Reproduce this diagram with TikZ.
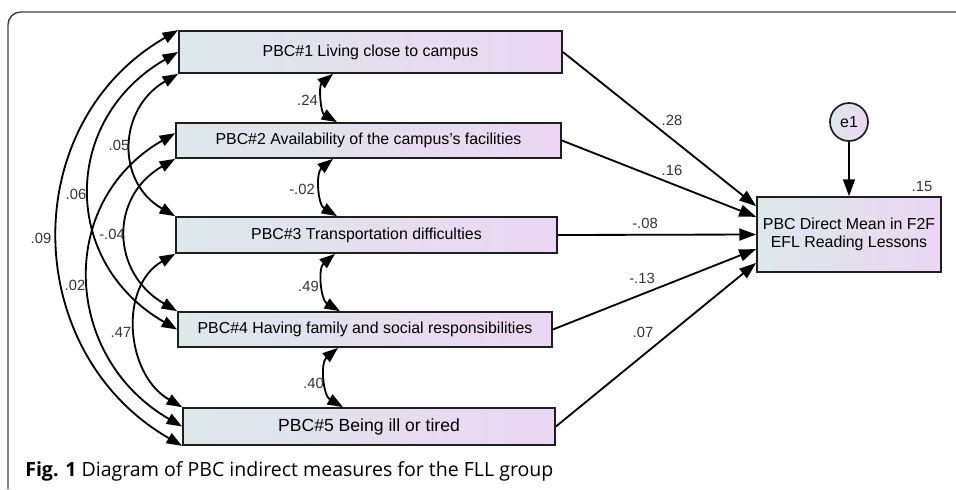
\documentclass[tikz,border=0pt]{standalone}
\usepackage{fontspec}
\setmainfont{Liberation Sans}
\newfontfamily\capfont{Open Sans}
\usepackage{tikz}
\usetikzlibrary{arrows.meta, calc}
\definecolor{leftfill}{RGB}{221, 232, 234}
\definecolor{rightfill}{RGB}{235, 214, 243}
\definecolor{edge}{RGB}{30, 30, 30}
\tikzstyle{item} = [rectangle, draw=edge, line width=1.2pt, left color=leftfill, right color=rightfill, text centered, inner sep=0pt, font=\fontsize{11.3}{12.5}\selectfont]
\tikzstyle{arrow} = [line width=1.3pt, -{Triangle[length=12pt, width=8.5pt]}]
\tikzstyle{cov} = [line width=1.3pt, {Triangle[length=11pt, width=8pt]}-{Triangle[length=11pt, width=8pt]}]
\tikzstyle{est} = [inner sep=0pt, text=black!80, font=\fontsize{10.5}{12}\selectfont]

\begin{document}
\begin{tikzpicture}[x=0.025cm, y=0.025cm]
    \useasboundingbox (0,0) rectangle (956,-489);
    % Frame
    \draw[line width=1pt, draw=black!75, rounded corners=9pt] (8,-489) -- (8,-12) -- (956,-12);

    % Indirect measures
    \node[item, minimum width=9.575cm, minimum height=1.05cm] (b1) at (370.5,-52) {PBC\#1 Living close to campus};
    \node[item, minimum width=9.625cm, minimum height=0.875cm] (b2) at (368.5,-140.5) {PBC\#2 Availability of the campus's facilities};
    \node[item, minimum width=9.525cm, minimum height=0.9cm] (b3) at (366.5,-235) {PBC\#3 Transportation difficulties};
    \node[item, minimum width=9.35cm, minimum height=0.875cm] (b4) at (365,-329.5) {PBC\#4 Having family and social responsibilities};
    \node[item, minimum width=9.3cm, minimum height=0.925cm, font=\fontsize{12.5}{14}\selectfont] (b5) at (369,-426.5) {PBC\#5 Being ill or tired};

    % Direct measure and error
    \node[item, align=center, minimum width=4.6cm, minimum height=1.875cm] (tg) at (849,-234.5) {PBC Direct Mean in F2F\\EFL Reading Lessons};
    \node[item, circle, minimum size=0.95cm] (e1) at (849,-122) {e1};
    \node[est] (r2) at (922,-186) {.15};

    % Paths
    \draw[arrow] (b1.east) -- ($(tg.north west)!0.13!(tg.south west)$);
    \draw[arrow] (b2.east) -- ($(tg.north west)!0.27!(tg.south west)$);
    \draw[arrow] (b3.east) -- (tg.west);
    \draw[arrow] (b4.east) -- ($(tg.north west)!0.69!(tg.south west)$);
    \draw[arrow] (b5.east) -- ($(tg.north west)!0.87!(tg.south west)$);
    \draw[arrow] (e1) -- (tg);
    \node[est] (p1) at (672,-120) {.28};
    \node[est] (p2) at (672,-170) {.16};
    \node[est] (p3) at (645,-223) {-.08};
    \node[est] (p4) at (642,-278) {-.13};
    \node[est] (p5) at (643,-332) {.07};

    % Covariances between neighbours
    \draw[cov] (b1.south -| 333,0) to[bend right=55] (b2.north -| 337,0);
    \draw[cov] (b2.south -| 333,0) to[bend right=55] (b3.north -| 337,0);
    \draw[cov] (b3.south -| 335,0) to[bend right=55] (b4.north -| 340,0);
    \draw[cov] (b4.south -| 338,0) to[bend right=55] (b5.north -| 343,0);
    \node[est, anchor=east] (c12) at (318,-100) {.24};
    \node[est, anchor=east] (c23) at (315,-189) {-.02};
    \node[est, anchor=east] (c34) at (319,-286) {.49};
    \node[est, anchor=east] (c45) at (324,-383) {.40};

    % Covariances on the left
    \draw[cov] (b1.north west) to[out=210, in=150, looseness=1.15] (b5.south west);
    \draw[cov] (b1.west) to[out=210, in=150, looseness=1.24] (b4.west);
    \draw[cov] (b1.south west) to[out=210, in=150, looseness=1.24] (b3.north west);
    \draw[cov] ($(b2.north west)!0.3!(b2.south west)$) to[out=210, in=150, looseness=1.2] (b5.west);
    \draw[cov] (b2.south west) to[out=210, in=150, looseness=1.28] (b4.north west);
    \draw[cov] (b3.south west) to[out=210, in=150, looseness=1.09] (b5.north west);
    \node[est] (c15) at (41,-238) {.09};
    \node[est] (c14) at (76,-194) {.06};
    \node[est] (c13) at (119,-145) {.05};
    \node[est] (c24) at (112,-234) {-.04};
    \node[est] (c25) at (75,-285) {.02};
    \node[est] (c35) at (121,-332) {.47};

    % Caption
    \node[anchor=west, inner sep=0pt, font=\capfont\fontsize{13.9}{16}\selectfont] (cap) at (25,-471) {\textbf{Fig. 1} Diagram of PBC indirect measures for the FLL group};
\end{tikzpicture}
\end{document}
